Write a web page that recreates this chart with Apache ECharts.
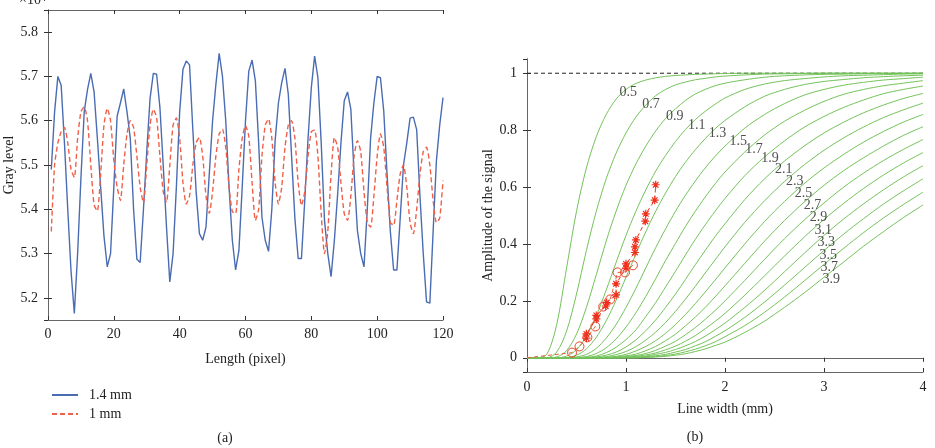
<!DOCTYPE html>
<html>
<head>
<meta charset="utf-8">
<title>Gray level / amplitude of the signal</title>
<script src="https://cdn.jsdelivr.net/npm/echarts@6/dist/echarts.min.js"></script>
<style>
  html, body { margin: 0; padding: 0; background: #fff; }
  #main { width: 935px; height: 448px; }
</style>
</head>
<body>
<div id="main"></div>
<script>
// ---- (a) gray level along the profile, pixel 1..120, values in x10^4
var grayBlue = [5.49, 5.62, 5.70, 5.68, 5.55, 5.40, 5.26, 5.165, 5.30, 5.47,
  5.62, 5.67, 5.707, 5.665, 5.56, 5.45, 5.34, 5.27, 5.30, 5.45,
  5.61, 5.64, 5.672, 5.62, 5.56, 5.40, 5.287, 5.28, 5.40, 5.53,
  5.65, 5.707, 5.705, 5.63, 5.50, 5.36, 5.236, 5.30, 5.45, 5.62,
  5.716, 5.735, 5.726, 5.58, 5.44, 5.345, 5.33, 5.36, 5.48, 5.60,
  5.682, 5.752, 5.70, 5.60, 5.45, 5.33, 5.263, 5.307, 5.45, 5.60,
  5.712, 5.737, 5.69, 5.55, 5.382, 5.33, 5.305, 5.40, 5.555, 5.64,
  5.686, 5.718, 5.66, 5.52, 5.38, 5.289, 5.289, 5.42, 5.56, 5.675,
  5.746, 5.697, 5.55, 5.375, 5.30, 5.248, 5.33, 5.435, 5.55, 5.645,
  5.665, 5.626, 5.48, 5.352, 5.30, 5.27, 5.40, 5.56, 5.64, 5.70,
  5.697, 5.622, 5.48, 5.35, 5.263, 5.263, 5.38, 5.50, 5.55, 5.606,
  5.608, 5.58, 5.43, 5.30, 5.191, 5.188, 5.35, 5.51, 5.59, 5.652];
var grayRed = [5.35, 5.50, 5.55, 5.575, 5.585, 5.55, 5.49, 5.472, 5.56, 5.62,
  5.631, 5.60, 5.50, 5.41, 5.396, 5.48, 5.59, 5.628, 5.60, 5.51,
  5.45, 5.42, 5.50, 5.57, 5.60, 5.585, 5.52, 5.45, 5.414, 5.50,
  5.59, 5.626, 5.607, 5.52, 5.44, 5.416, 5.50, 5.59, 5.606, 5.56,
  5.46, 5.412, 5.43, 5.50, 5.55, 5.562, 5.52, 5.43, 5.391, 5.44,
  5.52, 5.57, 5.581, 5.54, 5.45, 5.395, 5.39, 5.49, 5.56, 5.589,
  5.565, 5.46, 5.375, 5.40, 5.52, 5.59, 5.604, 5.56, 5.46, 5.412,
  5.45, 5.54, 5.59, 5.60, 5.56, 5.46, 5.409, 5.44, 5.52, 5.575,
  5.579, 5.52, 5.39, 5.30, 5.35, 5.48, 5.562, 5.54, 5.46, 5.39,
  5.375, 5.43, 5.52, 5.555, 5.53, 5.44, 5.37, 5.36, 5.43, 5.52,
  5.57, 5.54, 5.45, 5.37, 5.364, 5.42, 5.48, 5.50, 5.45, 5.37,
  5.345, 5.40, 5.48, 5.53, 5.54, 5.50, 5.42, 5.37, 5.38, 5.465];

// ---- (b) amplitude of the signal vs line width, one curve per label
var widthGrid = [0, 0.1, 0.2, 0.3, 0.4, 0.5, 0.6, 0.7, 0.8, 0.9, 1.0,
  1.1, 1.2, 1.3, 1.4, 1.5, 1.6, 1.7, 1.8, 1.9, 2.0,
  2.2, 2.4, 2.6, 2.8, 3.0, 3.2, 3.4, 3.6, 3.8, 4.0];
var curveNames = ['0.5', '0.7', '0.9', '1.1', '1.3', '1.5', '1.7', '1.9', '2.1',
  '2.3', '2.5', '2.7', '2.9', '3.1', '3.3', '3.5', '3.7', '3.9'];
var curveAmp = [
  [0, 0, 0.012, 0.117, 0.316, 0.515, 0.667, 0.777, 0.855, 0.909, 0.943, 0.964, 0.976, 0.984, 0.989, 0.992, 0.994, 0.996, 0.997, 0.998, 0.999, 1, 1, 1, 1, 1, 1, 1, 1, 1, 1],
  [0, 0, 0, 0.020, 0.094, 0.224, 0.377, 0.515, 0.629, 0.719, 0.790, 0.846, 0.888, 0.921, 0.943, 0.959, 0.969, 0.977, 0.982, 0.987, 0.990, 0.994, 0.997, 0.998, 0.999, 1, 1, 1, 1, 1, 1],
  [0, 0, 0, 0.003, 0.025, 0.083, 0.177, 0.292, 0.410, 0.515, 0.606, 0.681, 0.744, 0.797, 0.841, 0.875, 0.904, 0.927, 0.943, 0.956, 0.965, 0.977, 0.986, 0.991, 0.994, 0.996, 0.997, 0.998, 0.999, 0.999, 1],
  [0, 0, 0, 0, 0.006, 0.028, 0.076, 0.148, 0.238, 0.335, 0.430, 0.515, 0.590, 0.656, 0.711, 0.760, 0.802, 0.837, 0.866, 0.891, 0.913, 0.943, 0.962, 0.974, 0.981, 0.987, 0.991, 0.993, 0.995, 0.997, 0.998],
  [0, 0, 0, 0, 0.001, 0.009, 0.031, 0.072, 0.130, 0.202, 0.283, 0.365, 0.443, 0.515, 0.579, 0.637, 0.687, 0.731, 0.770, 0.805, 0.834, 0.882, 0.919, 0.943, 0.960, 0.971, 0.978, 0.984, 0.988, 0.991, 0.993],
  [0, 0, 0, 0, 0, 0.003, 0.012, 0.033, 0.069, 0.117, 0.177, 0.244, 0.316, 0.387, 0.453, 0.515, 0.571, 0.621, 0.667, 0.708, 0.744, 0.807, 0.855, 0.893, 0.923, 0.943, 0.958, 0.968, 0.976, 0.981, 0.986],
  [0, 0, 0, 0, 0, 0.001, 0.004, 0.015, 0.035, 0.066, 0.108, 0.158, 0.216, 0.278, 0.342, 0.402, 0.461, 0.515, 0.565, 0.611, 0.653, 0.723, 0.783, 0.831, 0.869, 0.901, 0.926, 0.943, 0.956, 0.965, 0.974],
  [0, 0, 0, 0, 0, 0, 0.002, 0.006, 0.018, 0.037, 0.064, 0.098, 0.145, 0.194, 0.249, 0.304, 0.361, 0.416, 0.467, 0.515, 0.560, 0.640, 0.706, 0.762, 0.810, 0.848, 0.880, 0.906, 0.928, 0.943, 0.955],
  [0, 0, 0, 0, 0, 0, 0, 0.003, 0.009, 0.020, 0.038, 0.063, 0.095, 0.133, 0.177, 0.224, 0.275, 0.327, 0.377, 0.426, 0.471, 0.556, 0.629, 0.691, 0.744, 0.790, 0.828, 0.861, 0.888, 0.911, 0.929],
  [0, 0, 0, 0, 0, 0, 0, 0.001, 0.004, 0.011, 0.022, 0.039, 0.062, 0.090, 0.124, 0.163, 0.206, 0.251, 0.298, 0.344, 0.390, 0.476, 0.552, 0.619, 0.678, 0.729, 0.773, 0.811, 0.844, 0.871, 0.895],
  [0, 0, 0, 0, 0, 0, 0, 0, 0.002, 0.005, 0.012, 0.024, 0.040, 0.060, 0.086, 0.117, 0.152, 0.190, 0.231, 0.273, 0.316, 0.400, 0.479, 0.549, 0.612, 0.667, 0.715, 0.758, 0.795, 0.828, 0.855],
  [0, 0, 0, 0, 0, 0, 0, 0, 0, 0.003, 0.007, 0.013, 0.025, 0.040, 0.060, 0.083, 0.112, 0.143, 0.177, 0.214, 0.253, 0.332, 0.410, 0.482, 0.547, 0.606, 0.658, 0.703, 0.744, 0.781, 0.812],
  [0, 0, 0, 0, 0, 0, 0, 0, 0, 0.001, 0.004, 0.008, 0.015, 0.026, 0.041, 0.058, 0.081, 0.106, 0.135, 0.166, 0.200, 0.272, 0.346, 0.418, 0.484, 0.544, 0.600, 0.649, 0.693, 0.732, 0.767],
  [0, 0, 0, 0, 0, 0, 0, 0, 0, 0, 0.002, 0.005, 0.010, 0.017, 0.028, 0.041, 0.058, 0.078, 0.102, 0.128, 0.156, 0.220, 0.288, 0.357, 0.424, 0.486, 0.543, 0.595, 0.642, 0.684, 0.721],
  [0, 0, 0, 0, 0, 0, 0, 0, 0, 0, 0.001, 0.003, 0.006, 0.012, 0.019, 0.029, 0.042, 0.057, 0.076, 0.098, 0.122, 0.177, 0.237, 0.302, 0.367, 0.430, 0.488, 0.541, 0.590, 0.635, 0.675],
  [0, 0, 0, 0, 0, 0, 0, 0, 0, 0, 0, 0.001, 0.004, 0.007, 0.012, 0.020, 0.029, 0.042, 0.056, 0.075, 0.095, 0.142, 0.196, 0.255, 0.316, 0.377, 0.435, 0.489, 0.540, 0.586, 0.629],
  [0, 0, 0, 0, 0, 0, 0, 0, 0, 0, 0, 0, 0.002, 0.004, 0.008, 0.013, 0.021, 0.030, 0.042, 0.056, 0.074, 0.113, 0.160, 0.213, 0.270, 0.328, 0.385, 0.440, 0.491, 0.538, 0.582],
  [0, 0, 0, 0, 0, 0, 0, 0, 0, 0, 0, 0, 0.001, 0.003, 0.005, 0.009, 0.014, 0.022, 0.031, 0.043, 0.055, 0.089, 0.129, 0.177, 0.228, 0.283, 0.337, 0.392, 0.443, 0.492, 0.537]
];
// where each curve label sits (line width, amplitude)
var curveLabelAt = [[0.93, 0.933], [1.16, 0.891], [1.40, 0.849], [1.62, 0.818], [1.83, 0.789],
  [2.04, 0.761], [2.20, 0.733], [2.36, 0.702], [2.50, 0.663], [2.61, 0.621], [2.70, 0.579],
  [2.79, 0.537], [2.85, 0.495], [2.90, 0.449], [2.93, 0.404], [2.95, 0.361], [2.96, 0.319], [2.98, 0.274]];

// measured points
var circleW = [0, 0.455, 0.53, 0.61, 0.69, 0.77, 0.84, 0.915, 0.99, 1.07];
var circleA = [0, 0.018, 0.04, 0.072, 0.11, 0.18, 0.205, 0.30, 0.30, 0.325];
var starW = [0.60, 0.60, 0.70, 0.70, 0.795, 0.805, 0.90, 0.90, 1.0, 1.0, 1.09, 1.09, 1.10, 1.195, 1.20, 1.29, 1.30];
var starA = [0.069, 0.084, 0.137, 0.149, 0.182, 0.194, 0.221, 0.26, 0.315, 0.33, 0.37, 0.39, 0.414, 0.48, 0.506, 0.554, 0.608];

var FONT = '"Liberation Serif", "DejaVu Serif", serif';
var TXT = '#222';
var BOX = '#666';
var chart = echarts.init(document.getElementById('main'));

function pairs(xs, ys) {
  return xs.map(function (x, i) { return [x, ys[i]]; });
}
function pixelPairs(vals) {
  return vals.map(function (v, i) { return [i + 1, v]; });
}

// top / right sides of the box, ticks only
function boxAxis(extra) {
  return Object.assign({
    type: 'value',
    axisLine: { show: true, lineStyle: { color: BOX, width: 1 } },
    axisTick: { show: true, inside: true, length: 4, lineStyle: { color: '#333' } },
    axisLabel: { show: false },
    splitLine: { show: false }
  }, extra);
}
function mainAxis(extra) {
  return Object.assign({
    type: 'value',
    axisLine: { show: true, onZero: false, lineStyle: { color: BOX, width: 1 } },
    axisTick: { show: true, inside: true, length: 4, lineStyle: { color: '#333' } },
    axisLabel: { color: TXT, fontFamily: FONT, fontSize: 14 },
    splitLine: { show: false },
    nameLocation: 'middle',
    nameTextStyle: { color: TXT, fontFamily: FONT, fontSize: 14 }
  }, extra);
}
var tenth = function (v) {
  return Math.abs(v * 10 - Math.round(v * 10)) < 1e-6 ? v.toFixed(1) : '';
};
var fifth = function (v) {
  return Math.abs(v * 5 - Math.round(v * 5)) < 1e-6 ? String(+v.toFixed(1)) : '';
};

var series = [
  {
    name: '1.4 mm', type: 'line', xAxisIndex: 0, yAxisIndex: 0,
    data: pixelPairs(grayBlue), symbol: 'none',
    lineStyle: { color: '#4a6cb3', width: 1.4 }, itemStyle: { color: '#4a6cb3' }
  },
  {
    name: '1 mm', type: 'line', xAxisIndex: 0, yAxisIndex: 0,
    data: pixelPairs(grayRed), symbol: 'none', smooth: 0.2,
    lineStyle: { color: '#f06048', width: 1.4, type: [5, 3] }, itemStyle: { color: '#f06048' }
  },
  {
    type: 'line', xAxisIndex: 2, yAxisIndex: 2, symbol: 'none', z: 1,
    data: [[0, 1], [4, 1]],
    lineStyle: { color: '#222', width: 1, type: [4, 3] }
  }
];

curveAmp.forEach(function (amp) {
  series.push({
    type: 'line', xAxisIndex: 2, yAxisIndex: 2, symbol: 'none', smooth: 0.3, z: 2,
    data: pairs(widthGrid, amp),
    lineStyle: { color: '#74c35a', width: 1 }
  });
});

series.push({
  type: 'scatter', xAxisIndex: 2, yAxisIndex: 2, symbolSize: 1, z: 5,
  itemStyle: { color: 'rgba(0,0,0,0)' },
  data: curveNames.map(function (n, i) { return { name: n, value: curveLabelAt[i] }; }),
  label: {
    show: true, position: 'right', distance: 0, formatter: '{b}',
    color: TXT, fontFamily: FONT, fontSize: 14
  }
});

series.push({
  type: 'line', xAxisIndex: 2, yAxisIndex: 2, z: 4,
  data: pairs(circleW, circleA),
  symbol: function (v, p) { return p.dataIndex === 0 ? 'none' : 'circle'; },
  symbolSize: 9,
  itemStyle: { color: 'rgba(0,0,0,0)', borderColor: '#e8452c', borderWidth: 1 },
  lineStyle: { color: '#e0603a', width: 1, type: [4, 3] }
});
series.push({
  type: 'line', xAxisIndex: 2, yAxisIndex: 2, z: 4,
  data: pairs(starW, starA),
  symbol: 'path://M0,-10L0,10M-10,0L10,0M-7,-7L7,7M-7,7L7,-7',
  symbolSize: 8,
  itemStyle: { color: 'rgba(0,0,0,0)', borderColor: '#f0301c', borderWidth: 1.2 },
  lineStyle: { color: '#f0301c', width: 1, type: [4, 3] }
});

var option = {
  backgroundColor: '#fff',
  animation: false,
  grid: [
    { left: 48, top: 10, width: 395, height: 310 },
    { left: 527, top: 59, width: 396, height: 313 }
  ],
  xAxis: [
    mainAxis({ gridIndex: 0, position: 'bottom', min: 0, max: 120, interval: 20,
      name: 'Length (pixel)', nameGap: 32, axisLabel: { color: TXT, fontFamily: FONT, fontSize: 14, margin: 7 } }),
    boxAxis({ gridIndex: 0, position: 'top', min: 0, max: 120, interval: 20 }),
    mainAxis({ gridIndex: 1, position: 'bottom', min: 0, max: 4, interval: 1,
      name: 'Line width (mm)', nameGap: 30, axisLabel: { color: TXT, fontFamily: FONT, fontSize: 14, margin: 8 } }),
    boxAxis({ gridIndex: 1, position: 'top', min: 0, max: 4, interval: 1 })
  ],
  yAxis: [
    mainAxis({ gridIndex: 0, position: 'left', min: 5.15, max: 5.85, splitNumber: 7,
      name: 'Gray level', nameGap: 32,
      axisLabel: { color: TXT, fontFamily: FONT, fontSize: 14, margin: 10, formatter: tenth,
        showMinLabel: false, showMaxLabel: false } }),
    boxAxis({ gridIndex: 0, position: 'right', min: 5.15, max: 5.85, splitNumber: 7 }),
    mainAxis({ gridIndex: 1, position: 'left', min: -0.05, max: 1.05, splitNumber: 5,
      name: 'Amplitude of the signal', nameGap: 26,
      axisLabel: { color: TXT, fontFamily: FONT, fontSize: 14, margin: 10, formatter: fifth,
        showMinLabel: false, showMaxLabel: false } }),
    boxAxis({ gridIndex: 1, position: 'right', min: -0.05, max: 1.05, splitNumber: 5 })
  ],
  legend: {
    data: ['1.4 mm', '1 mm'],
    orient: 'vertical', left: 46, top: 383,
    itemWidth: 26, itemHeight: 12, itemGap: 5,
    itemStyle: { opacity: 0 },
    textStyle: { color: TXT, fontFamily: FONT, fontSize: 14, padding: [0, 0, 0, 6] }
  },
  graphic: [
    { type: 'text', left: 19, top: -7,
      style: { text: '×10{s|4}', fill: TXT, font: '14px ' + FONT,
        rich: { s: { fontSize: 10, verticalAlign: 'top', fontFamily: FONT, fill: TXT } } } },
    { type: 'text', x: 225, y: 438,
      style: { text: '(a)', fill: TXT, font: '14px ' + FONT, align: 'center', verticalAlign: 'middle' } },
    { type: 'text', x: 695, y: 437,
      style: { text: '(b)', fill: TXT, font: '14px ' + FONT, align: 'center', verticalAlign: 'middle' } }
  ],
  series: series
};

chart.setOption(option);
</script>
</body>
</html>
